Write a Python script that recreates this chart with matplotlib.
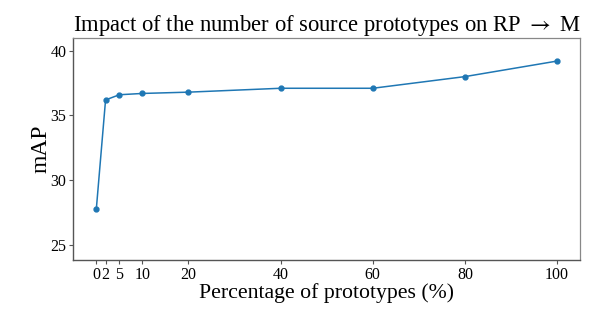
import matplotlib
matplotlib.use("Agg")
import matplotlib.pyplot as plt

# percentage of source prototypes kept vs. mAP
percentages = [0, 2, 5, 10, 20, 40, 60, 80, 100]
map_values = [27.8, 36.2, 36.6, 36.7, 36.8, 37.1, 37.1, 38.0, 39.2]
y_ticks = [25, 30, 35, 40]

plt.rcParams["font.family"] = ["Liberation Serif", "DejaVu Serif"]
plt.rcParams["mathtext.fontset"] = "stix"

fig = plt.figure(figsize=(5.98, 3.19), dpi=100)
ax = fig.add_axes([0.1226, 0.185, 0.8474, 0.695])

ax.plot(percentages, map_values, marker="o", markersize=3.5, linewidth=1.1, color="#1f77b4")

ax.set_xlim(-5, 105)
ax.set_ylim(23.84, 40.96)
ax.set_xticks(percentages)
ax.set_xticklabels([str(p) for p in percentages])
ax.set_yticks(y_ticks)
ax.tick_params(labelsize=11.5, length=3, width=0.8, color="#555555", pad=2)

for side in ["left", "bottom"]:
    ax.spines[side].set_color("#555555")
    ax.spines[side].set_linewidth(1.0)
for side in ["top", "right"]:
    ax.spines[side].set_color("#888888")
    ax.spines[side].set_linewidth(0.9)

ax.set_title(r"Impact of the number of source prototypes on RP $\rightarrow$ M", fontsize=16.3, pad=2)
ax.set_xlabel("Percentage of prototypes (%)", fontsize=15.7, labelpad=0)
ax.set_ylabel("mAP", fontsize=17, labelpad=-1)

fig.savefig("out.png", dpi=100)
